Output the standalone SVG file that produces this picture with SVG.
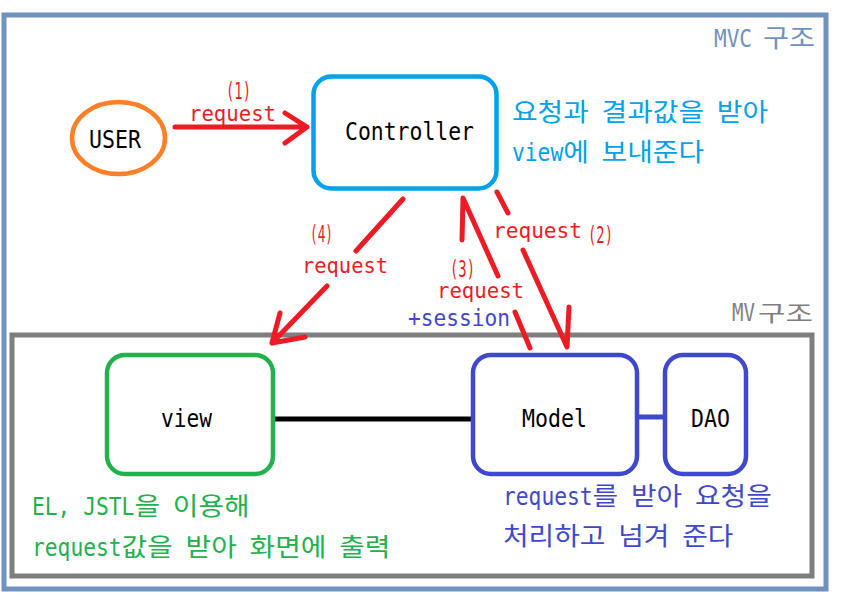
<svg xmlns="http://www.w3.org/2000/svg" width="843" height="600" viewBox="0 0 843 600">
<style>
.mono{font-family:"DejaVu Sans Mono","Noto Sans CJK KR",monospace;}
.kor{font-family:"Noto Sans CJK KR","DejaVu Sans Mono",sans-serif;font-size:25px;}
.lat{font-family:"DejaVu Sans Mono","Noto Sans CJK KR",monospace;font-size:25px;}
.lbl{font-size:25px;fill:#000;}
.red{font-size:22px;fill:#ed1c24;}
.num{font-size:23px;fill:#ed1c24;}
.arrow{stroke:#ed1c24;stroke-width:5;fill:none;stroke-linecap:round;stroke-linejoin:round;}
.box{fill:#fff;stroke-width:4.5;}
</style>
<rect x="0" y="0" width="843" height="600" fill="#fff"/>
<g id="frame-mvc">
<rect x="4" y="15" width="822" height="574" fill="none" stroke="#7092be" stroke-width="5"/>
<text class="kor" y="47" fill="#7092be"><tspan class="lat" x="714" font-size="23" textLength="38" lengthAdjust="spacingAndGlyphs">MVC</tspan> <tspan x="763" textLength="52" lengthAdjust="spacingAndGlyphs">구조</tspan></text>
</g>
<g id="frame-mv">
<rect x="12" y="335" width="800" height="241" fill="none" stroke="#7f7f7f" stroke-width="5"/>
<text class="kor" y="321" fill="#7f7f7f"><tspan class="lat" x="732" font-size="21" textLength="23" lengthAdjust="spacingAndGlyphs">MV</tspan><tspan x="758" font-size="22" textLength="55" lengthAdjust="spacingAndGlyphs">구조</tspan></text>
</g>
<g id="connectors">
<path class="arrow" d="M175 127H307M285 113L307 127L285 143"/>
<path class="arrow" d="M403 199L356 251M327 286L272 343M280 313L272 343L305 337"/>
<path class="arrow" d="M462 240L463 198L498 276M515 312L530 348"/>
<path class="arrow" d="M497 192L508 213M523 250L567 347L569 307"/>
<line x1="272" y1="419" x2="472" y2="419" stroke="#000" stroke-width="5" stroke-linecap="round"/>
<line x1="638" y1="417" x2="664" y2="417" stroke="#3f48cc" stroke-width="5"/>
<text class="mono num" x="226" y="99" textLength="25" lengthAdjust="spacingAndGlyphs">(1)</text>
<text class="mono red" x="189" y="121" textLength="87" lengthAdjust="spacingAndGlyphs">request</text>
<text class="mono red" x="493" y="238" textLength="89" lengthAdjust="spacingAndGlyphs">request</text>
<text class="mono num" x="588" y="243" textLength="25" lengthAdjust="spacingAndGlyphs">(2)</text>
<text class="mono num" x="450" y="277" textLength="25" lengthAdjust="spacingAndGlyphs">(3)</text>
<text class="mono red" x="437" y="298" textLength="87" lengthAdjust="spacingAndGlyphs">request</text>
<text class="mono" x="408" y="326" font-size="23" fill="#3f48cc" textLength="102" lengthAdjust="spacingAndGlyphs">+session</text>
<text class="mono num" x="310" y="242" textLength="23" lengthAdjust="spacingAndGlyphs">(4)</text>
<text class="mono red" x="302" y="273" textLength="86" lengthAdjust="spacingAndGlyphs">request</text>
</g>
<g id="user">
<ellipse cx="118.5" cy="138" rx="46.5" ry="36" fill="#fff" stroke="#ff7f27" stroke-width="4.5"/>
<text class="mono lbl" x="89" y="148" font-size="24" textLength="52" lengthAdjust="spacingAndGlyphs">USER</text>
</g>
<g id="controller">
<rect class="box" x="313.5" y="76.5" width="183" height="112" rx="18" stroke="#00a2e8"/>
<text class="mono lbl" x="345" y="140" textLength="129" lengthAdjust="spacingAndGlyphs">Controller</text>
<text class="kor" y="121" fill="#00a2e8"><tspan x="512" textLength="76.8" lengthAdjust="spacingAndGlyphs">요청과</tspan> <tspan x="601.6" textLength="102.4" lengthAdjust="spacingAndGlyphs">결과값을</tspan> <tspan x="716.8" textLength="51.2" lengthAdjust="spacingAndGlyphs">받아</tspan></text>
<text class="kor" y="161" fill="#00a2e8"><tspan class="lat" x="512" textLength="51.2" lengthAdjust="spacingAndGlyphs">view</tspan><tspan x="563.2" textLength="25.6" lengthAdjust="spacingAndGlyphs">에</tspan> <tspan x="601.6" textLength="102.4" lengthAdjust="spacingAndGlyphs">보내준다</tspan></text>
</g>
<g id="view">
<rect class="box" x="107" y="355" width="166" height="119" rx="18" stroke="#22b14c"/>
<text class="mono lbl" x="161" y="427" textLength="51" lengthAdjust="spacingAndGlyphs">view</text>
<text class="kor" y="515" fill="#22b14c"><tspan class="lat" x="32" textLength="102.4" lengthAdjust="spacingAndGlyphs">EL, JSTL</tspan><tspan x="134.4" textLength="25.6" lengthAdjust="spacingAndGlyphs">을</tspan> <tspan x="172.8" textLength="76.8" lengthAdjust="spacingAndGlyphs">이용해</tspan></text>
<text class="kor" y="556" fill="#22b14c"><tspan class="lat" x="32" textLength="89.6" lengthAdjust="spacingAndGlyphs">request</tspan><tspan x="121.6" textLength="51.2" lengthAdjust="spacingAndGlyphs">값을</tspan> <tspan x="185.6" textLength="51.2" lengthAdjust="spacingAndGlyphs">받아</tspan> <tspan x="249.6" textLength="76.8" lengthAdjust="spacingAndGlyphs">화면에</tspan> <tspan x="339.2" textLength="51.2" lengthAdjust="spacingAndGlyphs">출력</tspan></text>
</g>
<g id="model">
<rect class="box" x="473" y="355" width="164" height="119" rx="18" stroke="#3f48cc"/>
<text class="mono lbl" x="522" y="427" textLength="65" lengthAdjust="spacingAndGlyphs">Model</text>
<text class="kor" y="505" fill="#3f48cc"><tspan class="lat" x="503" textLength="89.6" lengthAdjust="spacingAndGlyphs">request</tspan><tspan x="592.6" textLength="25.6" lengthAdjust="spacingAndGlyphs">를</tspan> <tspan x="631" textLength="51.2" lengthAdjust="spacingAndGlyphs">받아</tspan> <tspan x="695" textLength="76.8" lengthAdjust="spacingAndGlyphs">요청을</tspan></text>
<text class="kor" y="545" fill="#3f48cc"><tspan x="503" textLength="102.4" lengthAdjust="spacingAndGlyphs">처리하고</tspan> <tspan x="618.2" textLength="51.2" lengthAdjust="spacingAndGlyphs">넘겨</tspan> <tspan x="682.2" textLength="51.2" lengthAdjust="spacingAndGlyphs">준다</tspan></text>
</g>
<g id="dao">
<rect class="box" x="665" y="355" width="81" height="119" rx="18" stroke="#3f48cc"/>
<text class="mono lbl" x="691" y="427" textLength="39" lengthAdjust="spacingAndGlyphs">DAO</text>
</g>
</svg>
